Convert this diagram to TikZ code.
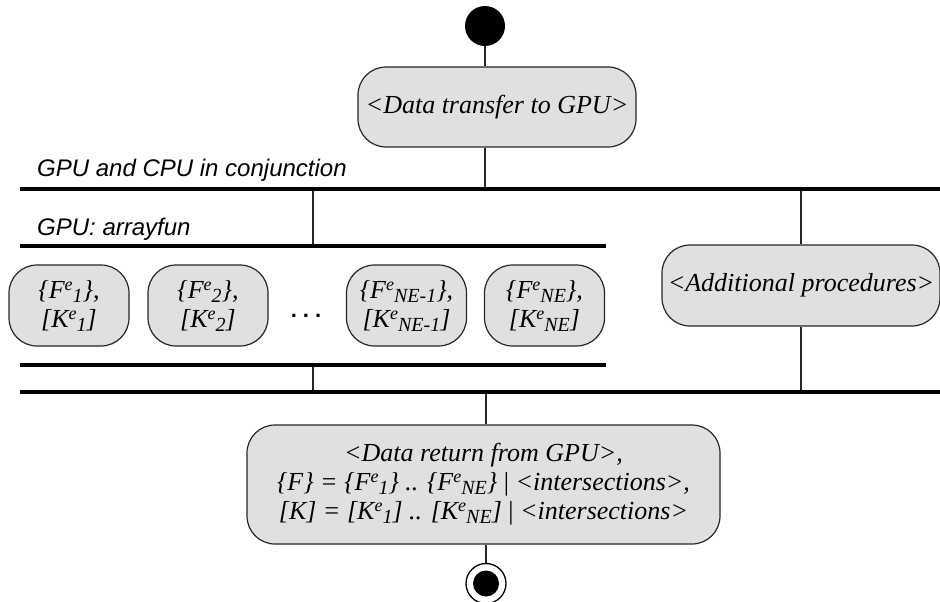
\documentclass[tikz,border=0pt]{standalone}
\usepackage{fontspec}
\setmainfont{Liberation Serif}
\newfontfamily\lanefont{Liberation Sans}
\definecolor{actfill}{RGB}{224,224,224}
\newcommand{\esup}[1]{\raisebox{8pt}{\fontsize{18}{18}\selectfont #1}}
\newcommand{\esub}[1]{\raisebox{-4pt}{\fontsize{20}{20}\selectfont #1}}
\begin{document}
\begin{tikzpicture}[x=1pt,y=-1pt,
  act/.style={draw=black!85, line width=1.2pt, fill=actfill, rounded corners=28pt,
    align=center, inner sep=0pt, font=\itshape\fontsize{26}{29}\selectfont},
  fork/.style={fill=black, inner sep=0pt, minimum height=4pt},
  lane/.style={anchor=base west, inner sep=0pt, font=\lanefont\itshape\fontsize{24}{24}\selectfont},
  flow/.style={draw=black!85, line width=1.2pt}]
\useasboundingbox (0,0) rectangle (940,602);

\node(start)[circle, fill=black, minimum size=40pt, inner sep=0pt] at (485,26) {};
\node(transfer)[act, minimum width=278pt, minimum height=80pt] at (497,107) {<Data transfer to GPU>};

\node(conj)[lane] at (37,176) {GPU and CPU in conjunction};
\node(fork1)[fork, minimum width=920pt] at (480,189) {};
\node(afun)[lane] at (37,235) {GPU: arrayfun};
\node(fork2)[fork, minimum width=586pt] at (313,246) {};

\node(T1)[act, minimum width=120pt, minimum height=81pt] at (69,305.5) {\{F\esup{e}\esub{1}\},\\ {}[K\esup{e}\esub{1}]};
\node(T2)[act, minimum width=120pt, minimum height=81pt] at (208,305.5) {\{F\esup{e}\esub{2}\},\\ {}[K\esup{e}\esub{2}]};
\node(dots)[anchor=base, inner sep=0pt, font=\lanefont\bfseries\fontsize{22}{22}\selectfont] at (306,317) {.\hspace{6pt}.\hspace{6pt}.};
\node(T3)[act, minimum width=120pt, minimum height=81pt] at (406.5,305.5) {\{F\esup{e}\esub{NE-1}\},\\ {}[K\esup{e}\esub{NE-1}]};
\node(T4)[act, minimum width=120pt, minimum height=81pt] at (544.5,305.5) {\{F\esup{e}\esub{NE}\},\\ {}[K\esup{e}\esub{NE}]};
\node(fork3)[fork, minimum width=586pt] at (313,365) {};

\node(extra)[act, minimum width=278pt, minimum height=81pt] at (801,285.5) {<Additional procedures>};
\node(fork4)[fork, minimum width=920pt] at (480,392) {};

\node(ret)[act, minimum width=473pt, minimum height=119pt] at (483.5,484.5) {<Data return from GPU>,\\
  \{F\} = \{F\esup{e}\esub{1}\} .. \{F\esup{e}\esub{NE}\} \textup{|} <intersections>,\\
  {}[K] = [K\esup{e}\esub{1}] .. [K\esup{e}\esub{NE}] \textup{|} <intersections>};

\node(stop)[circle, draw=black, line width=1.3pt, fill=white, minimum size=40pt, inner sep=0pt] at (486,583.5) {};
\node(stopdot)[circle, fill=black, minimum size=26pt, inner sep=0pt] at (stop) {};

\draw[flow] (start) -- (start |- transfer.north);
\draw[flow] (transfer.south -| start) -- (start |- fork1.north);
\draw[flow] (fork1.south -| fork2) -- (fork2.north);
\draw[flow] (fork1.south -| extra) -- (extra.north);
\draw[flow] (fork3.south) -- (fork3 |- fork4.north);
\draw[flow] (extra.south) -- (extra |- fork4.north);
\draw[flow] (fork4.south -| stop) -- (stop |- ret.north);
\draw[flow] (ret.south -| stop) -- (stop);
\end{tikzpicture}
\end{document}
